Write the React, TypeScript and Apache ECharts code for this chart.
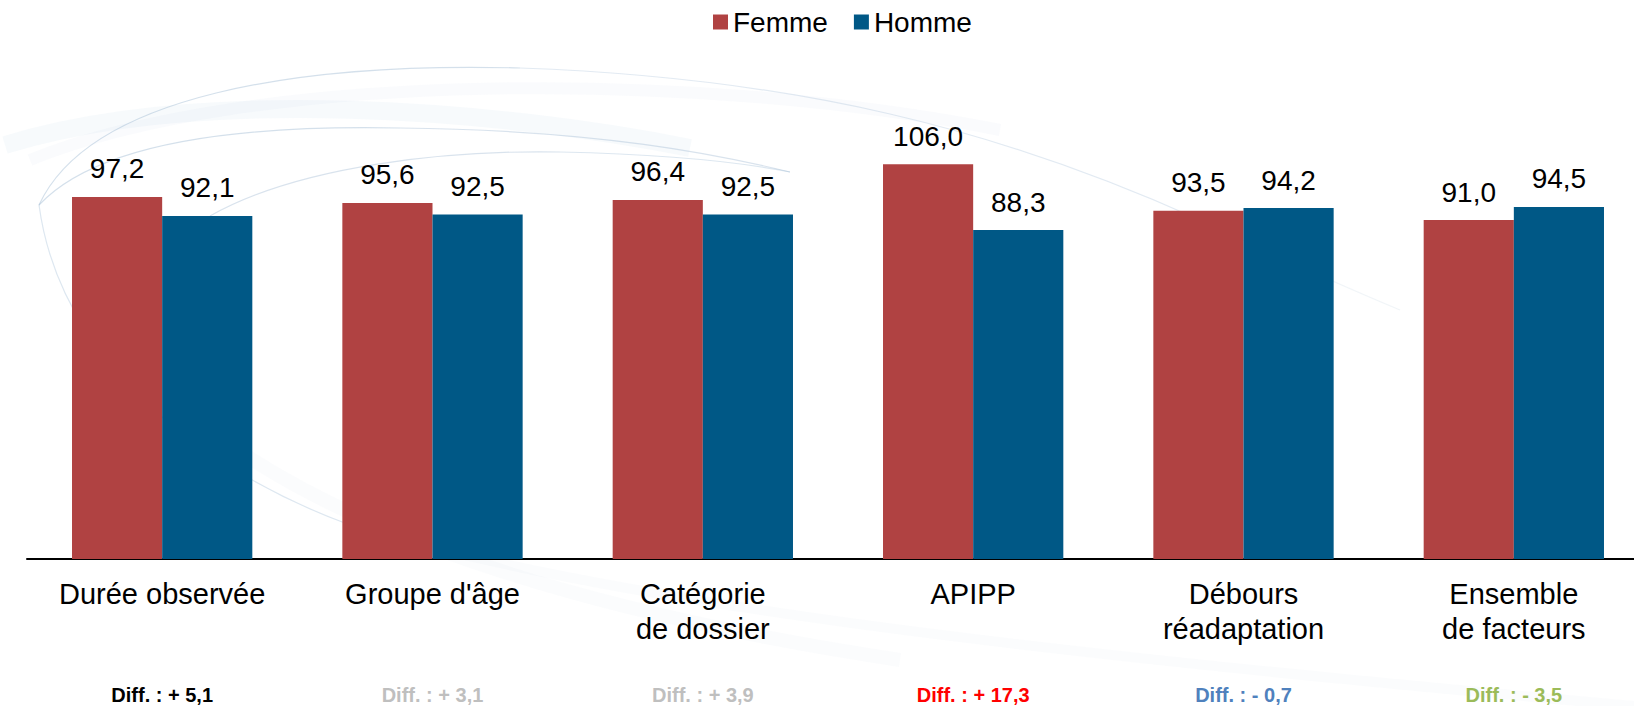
import React, { useEffect, useRef } from "react";
import * as echarts from "echarts";

const categories = [
  "Durée observée",
  "Groupe d'âge",
  "Catégorie\nde dossier",
  "APIPP",
  "Débours\nréadaptation",
  "Ensemble\nde facteurs",
];
const femme = [97.2, 95.6, 96.4, 106.0, 93.5, 91.0];
const homme = [92.1, 92.5, 92.5, 88.3, 94.2, 94.5];
const diffLabels = [
  "Diff. : + 5,1",
  "Diff. : + 3,1",
  "Diff. : + 3,9",
  "Diff. : + 17,3",
  "Diff. : - 0,7",
  "Diff. : - 3,5",
];
const diffColors = ["#000000", "#bfbfbf", "#bfbfbf", "#ff0000", "#4f81bd", "#9bbb59"];

const FONT = "'Liberation Sans', Arial, sans-serif";

export default function App() {
  const ref = useRef<HTMLDivElement>(null);
  useEffect(() => {
    if (!ref.current) return;
    const chart = echarts.init(ref.current, undefined, { renderer: "svg" });
    const fmt = (v: number) => v.toFixed(1).replace(".", ",");
    const rich: Record<string, any> = {};
    diffColors.forEach((c, i) => {
      rich["d" + i] = { color: c, fontSize: 20, fontWeight: "bold", fontFamily: FONT };
    });
    const swoosh = (shape: any, w: number, op: number) => ({
      type: "bezierCurve",
      z: -10,
      silent: true,
      shape,
      style: { stroke: "#9fbad3", lineWidth: w, opacity: op, fill: null },
    });
    chart.setOption({
      animation: false,
      backgroundColor: "#ffffff",
      textStyle: { fontFamily: FONT },
      graphic: [
        swoosh({ x1: 5, y1: 145, cpx1: 200, cpy1: 85, cpx2: 500, cpy2: 110, x2: 690, y2: 148 }, 18, 0.08),
        swoosh({ x1: 30, y1: 160, cpx1: 250, cpy1: 70, cpx2: 700, cpy2: 70, x2: 1000, y2: 130 }, 12, 0.05),
        swoosh({ x1: 39, y1: 205, cpx1: 90, cpy1: 95, cpx2: 300, cpy2: 62, x2: 520, y2: 68 }, 1.2, 0.45),
        swoosh({ x1: 520, y1: 68, cpx1: 800, cpy1: 78, cpx2: 1000, cpy2: 130, x2: 1200, y2: 220 }, 1.2, 0.3),
        swoosh({ x1: 1200, y1: 220, cpx1: 1280, cpy1: 258, cpx2: 1340, cpy2: 285, x2: 1400, y2: 310 }, 1.2, 0.15),
        swoosh({ x1: 39, y1: 205, cpx1: 100, cpy1: 140, cpx2: 250, cpy2: 125, x2: 400, y2: 128 }, 1.2, 0.45),
        swoosh({ x1: 400, y1: 128, cpx1: 600, cpy1: 130, cpx2: 720, cpy2: 155, x2: 790, y2: 172 }, 1.2, 0.4),
        swoosh({ x1: 210, y1: 216, cpx1: 300, cpy1: 165, cpx2: 450, cpy2: 150, x2: 560, y2: 152 }, 1.2, 0.4),
        swoosh({ x1: 560, y1: 152, cpx1: 650, cpy1: 154, cpx2: 730, cpy2: 160, x2: 790, y2: 172 }, 1.2, 0.35),
        swoosh({ x1: 39, y1: 205, cpx1: 60, cpy1: 360, cpx2: 200, cpy2: 470, x2: 350, y2: 525 }, 1.2, 0.35),
        swoosh({ x1: 80, y1: 260, cpx1: 150, cpy1: 480, cpx2: 500, cpy2: 600, x2: 900, y2: 660 }, 14, 0.04),
        swoosh({ x1: 350, y1: 525, cpx1: 600, cpy1: 600, cpx2: 1000, cpy2: 650, x2: 1634, y2: 706 }, 10, 0.04),
      ],
      legend: {
        left: 708,
        top: 3,
        icon: "rect",
        itemWidth: 15,
        itemHeight: 15,
        itemGap: 26,
        textStyle: { fontSize: 28, color: "#000", fontFamily: FONT },
        data: ["Femme", "Homme"],
      },
      grid: {
        left: 27,
        width: 1622,
        top: 112,
        bottom: 147,
        containLabel: false,
        outerBoundsMode: "none",
      },
      xAxis: [
        {
          type: "category",
          data: categories,
          axisLine: { lineStyle: { color: "#000", width: 2 } },
          axisTick: { show: false },
          axisLabel: {
            interval: 0,
            color: "#000",
            fontSize: 29,
            lineHeight: 35,
            margin: 17,
            fontFamily: FONT,
          },
        },
        {
          type: "category",
          position: "bottom",
          data: diffLabels,
          axisLine: { show: false },
          axisTick: { show: false },
          axisLabel: {
            interval: 0,
            margin: 126,
            formatter: (v: string, i: number) => `{d${i}|${v}}`,
            rich,
          },
        },
      ],
      yAxis: { type: "value", min: 0, max: 120, show: false, splitLine: { show: false } },
      series: [
        {
          name: "Femme",
          type: "bar",
          data: femme,
          barGap: "0%",
          barCategoryGap: "33.3%",
          itemStyle: { color: "#b04242" },
          label: {
            show: true,
            position: "top",
            distance: 14,
            fontSize: 28,
            color: "#000",
            fontFamily: FONT,
            formatter: (p: any) => fmt(p.value),
          },
        },
        {
          name: "Homme",
          type: "bar",
          data: homme,
          barGap: "0%",
          barCategoryGap: "33.3%",
          itemStyle: { color: "#005886" },
          label: {
            show: true,
            position: "top",
            distance: 14,
            fontSize: 28,
            color: "#000",
            fontFamily: FONT,
            formatter: (p: any) => fmt(p.value),
          },
        },
      ],
    });
    return () => chart.dispose();
  }, []);
  return (
    <div
      ref={ref}
      style={{ position: "fixed", left: 0, top: 0, width: 1634, height: 706 }}
    />
  );
}
